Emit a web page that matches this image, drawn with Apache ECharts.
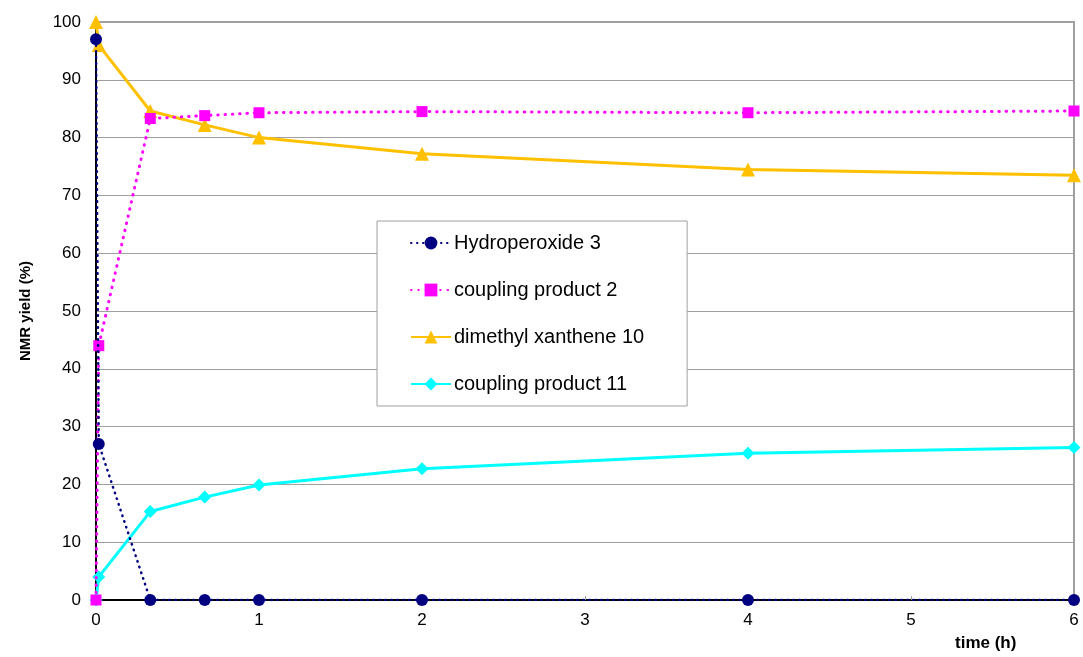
<!DOCTYPE html>
<html>
<head>
<meta charset="utf-8">
<script src="https://cdn.jsdelivr.net/npm/echarts@6/dist/echarts.min.js"></script>
<style>
  html, body { margin: 0; padding: 0; background: #fff; }
  #chart { width: 1083px; height: 657px; }
</style>
</head>
<body>
<div id="chart"></div>
<script>
// Reaction time in hours
const timeH = [0, 0.017, 0.333, 0.667, 1, 2, 4, 6];

// NMR yields (%) per species
const hydroperoxide3 = [97, 27, 0, 0, 0, 0, 0, 0];
const coupling2 = [0, 44, 83.3, 83.8, 84.3, 84.5, 84.3, 84.6];
const xanthene10 = [100, 96, 84.6, 82.2, 80, 77.2, 74.5, 73.5];
const coupling11 = [0, 4, 15.3, 17.8, 19.9, 22.7, 25.4, 26.4];

const seriesNames = ['Hydroperoxide 3', 'coupling product 2', 'dimethyl xanthene 10', 'coupling product 11'];

const pair = (ys) => timeH.map((t, i) => [t, ys[i]]);

const font = '"Liberation Sans", Arial, sans-serif';

const chart = echarts.init(document.getElementById('chart'), null, { renderer: 'canvas' });

chart.setOption({
  animation: false,
  backgroundColor: '#ffffff',
  grid: { left: 96, right: 9, top: 22, bottom: 57, show: true, borderColor: '#a0a0a0', borderWidth: 2 },
  xAxis: {
    type: 'value', min: 0, max: 6, interval: 1,
    axisLine: { show: true, onZero: false, lineStyle: { color: '#000', width: 2 } },
    axisTick: { show: true, length: 4, inside: true, lineStyle: { color: '#a0a0a0' } },
    splitLine: { show: false },
    axisLabel: { color: '#000', fontSize: 17, fontFamily: font, margin: 12 }
  },
  yAxis: {
    type: 'value', min: 0, max: 100, interval: 10,
    axisLine: { show: true, lineStyle: { color: '#000', width: 2 } },
    axisTick: { show: false },
    splitLine: { show: true, lineStyle: { color: '#a0a0a0', width: 1 } },
    axisLabel: { color: '#000', fontSize: 17, fontFamily: font, margin: 15 }
  },
  legend: {
    orient: 'vertical',
    left: 377, top: 221,
    padding: [12, 43, 12, 33],
    itemGap: 27,
    itemWidth: 40, itemHeight: 16,
    backgroundColor: '#fff',
    borderColor: '#a0a0a0', borderWidth: 1,
    textStyle: { color: '#000', fontSize: 20, lineHeight: 20, fontFamily: font, padding: [0, 0, 0, -2] },
    data: seriesNames
  },
  graphic: [
    { type: 'text', x: 26, y: 311, rotation: Math.PI / 2, style: { text: 'NMR yield (%)', font: 'bold 15px ' + font, fill: '#000', textAlign: 'center', textVerticalAlign: 'middle' } },
    { type: 'text', x: 955, y: 643, style: { text: 'time (h)', font: 'bold 17px ' + font, fill: '#000', textAlign: 'left', textVerticalAlign: 'middle' } }
  ],
  series: [
    {
      name: seriesNames[0], type: 'line', data: pair(hydroperoxide3),
      symbol: 'circle', symbolSize: 12, z: 5,
      itemStyle: { color: '#000080' },
      lineStyle: { color: '#000080', width: 2.5, type: [0.5, 5.5], cap: 'round' }
    },
    {
      name: seriesNames[1], type: 'line', data: pair(coupling2),
      symbol: 'rect', symbolSize: 11, z: 4,
      itemStyle: { color: '#ff00ff' },
      lineStyle: { color: '#ff00ff', width: 3, type: [0.5, 6.8], cap: 'round' }
    },
    {
      name: seriesNames[2], type: 'line', data: pair(xanthene10),
      symbol: 'triangle', symbolSize: 14, z: 3,
      itemStyle: { color: '#ffc000' },
      lineStyle: { color: '#ffc000', width: 3 }
    },
    {
      name: seriesNames[3], type: 'line', data: pair(coupling11),
      symbol: 'diamond', symbolSize: 13, z: 3,
      itemStyle: { color: '#00ffff' },
      lineStyle: { color: '#00ffff', width: 3 }
    }
  ]
});
</script>
</body>
</html>
